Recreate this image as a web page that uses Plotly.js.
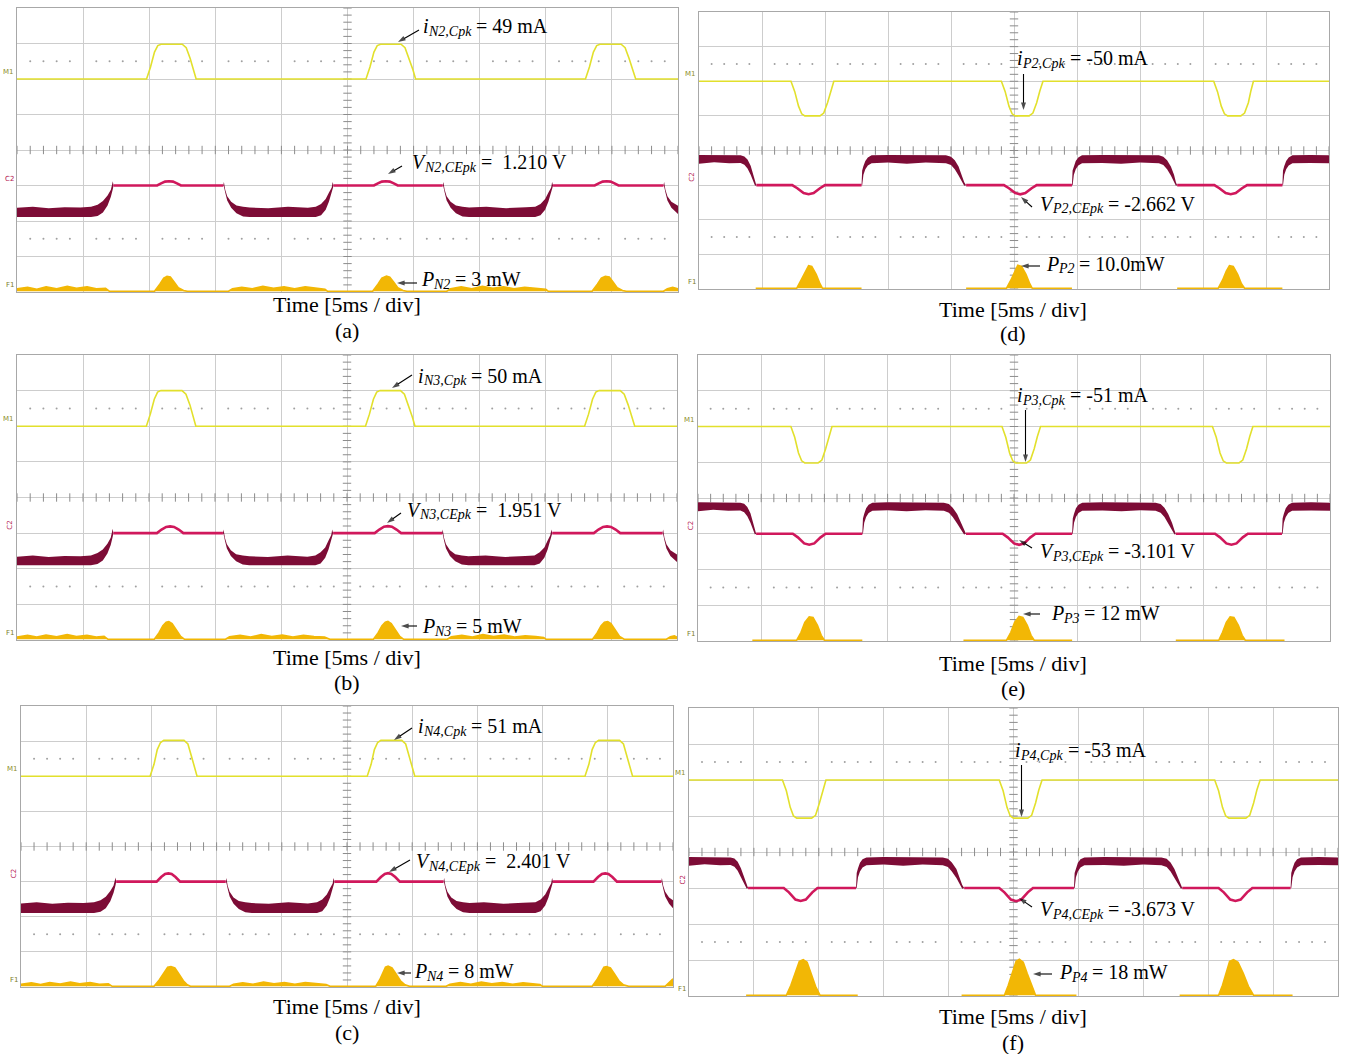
<!DOCTYPE html>
<html>
<head>
<meta charset="utf-8">
<script src="https://cdn.plot.ly/plotly-3.0.1.min.js"></script>
<style>
  html, body { margin: 0; padding: 0; background: #ffffff; }
  #chart { width: 1345px; height: 1054px; }
</style>
</head>
<body>
<div id="chart"></div>
<script>
// ---------------------------------------------------------------------------
// Scope captures, time in ms (5 ms/div, 10 div), current in mA, voltage in V,
// power in mW. Each capture: collector current, collector-emitter voltage
// (noisy band given as upper/lower envelope + clean conduction segments),
// and instantaneous power.
// ---------------------------------------------------------------------------

// ---- (a) N2 ----
const iN2_t = [0, 9.8,10.1,10.4,10.65,10.9,12.5,12.8,13.1,13.35,13.55, 26.4,26.7,27.0,27.25,27.5,29.05,29.35,29.65,29.95,30.15, 43.0,43.3,43.6,43.85,44.1,45.7,46.0,46.3,46.6,46.8, 50];
const iN2   = [0, 0,17,38,47,49,49,44,29,13,0, 0,17,38,47,49,49,44,29,13,0, 0,17,38,47,49,49,44,29,13,0, 0];
const vN2_bt = [0,1.2,2.4,3.6,4.8,5.6,6.1,6.5,6.85,7.1,7.25,7.3, 15.6,15.65,15.75,15.9,16.2,16.6,17.1,17.6,19.0,20.5,22.0,22.6,23.0,23.35,23.6,23.8,23.88,23.95, 32.2,32.25,32.35,32.5,32.8,33.2,33.7,34.2,35.5,37.0,38.5,39.2,39.6,39.95,40.2,40.4,40.48,40.55, 48.9,48.95,49.05,49.2,49.5,50];
const vN2_hi = [-6.3,-6.0,-6.4,-6.1,-6.2,-6.0,-5.4,-4.4,-2.8,-1.2,1.2,0, 0,1.0,-1.2,-3.0,-4.6,-5.6,-6.0,-6.2,-6.4,-6.0,-6.3,-6.0,-5.2,-3.8,-2.0,-0.6,1.0,0, 0,1.0,-1.2,-3.0,-4.6,-5.6,-6.0,-6.2,-6.0,-6.4,-6.1,-6.0,-5.2,-3.8,-2.0,-0.6,1.0,0, 0,1.0,-1.2,-3.0,-4.6,-5.7];
const vN2_lo = [-8.9,-8.9,-8.9,-8.9,-8.9,-8.9,-8.6,-7.6,-5.6,-3.2,-1.0,0, 0,-0.3,-2.0,-4.2,-6.3,-7.8,-8.7,-8.9,-8.9,-8.9,-8.9,-8.9,-8.4,-6.8,-4.5,-2.0,-0.6,0, 0,-0.3,-2.0,-4.2,-6.3,-7.8,-8.7,-8.9,-8.9,-8.9,-8.9,-8.9,-8.4,-6.8,-4.5,-2.0,-0.6,0, 0,-0.3,-2.0,-4.2,-6.3,-8.0];
const vN2_lt = [7.3,10.6,10.9,11.2,11.5,11.8,12.1,12.4,15.6,null, 23.95,27.0,27.3,27.6,27.9,28.2,28.5,28.8,32.2,null, 40.55,43.7,44.0,44.3,44.6,44.9,45.2,45.5,48.9];
const vN2_l  = [0,0,0.6,1.1,1.2,1.1,0.6,0,0,null, 0,0,0.6,1.1,1.21,1.1,0.6,0,0,null, 0,0,0.6,1.1,1.2,1.1,0.6,0,0];
const pN2_t = [0,0.8,1.5,2.2,3.0,3.8,4.5,5.3,6.0,6.7,7.0, 10.4,10.8,11.1,11.35,11.6,11.9,12.2,12.6,12.9, 16.0,16.3,17.0,17.8,18.6,19.4,20.2,21.0,21.8,22.6,23.3,23.5, 26.9,27.3,27.6,27.95,28.2,28.5,28.8,29.2,29.5, 32.5,32.8,33.6,34.4,35.2,36.0,36.8,37.6,38.4,39.2,40.0,40.2, 43.5,43.9,44.2,44.5,44.8,45.1,45.4,45.8,46.1, 48.9,49.2,49.6,50];
const pN2   = [0.5,0.8,0.4,0.9,0.5,1.0,0.6,0.9,0.5,0.6,0, 0,1.4,2.6,2.95,2.8,1.8,0.7,0.15,0, 0,0.5,0.8,0.5,1.0,0.6,0.9,0.5,0.9,0.6,0.4,0, 0,1.4,2.6,3.0,2.8,1.8,0.7,0.15,0, 0,0.5,0.9,0.5,1.0,0.6,0.9,0.5,0.8,0.6,0.4,0, 0,1.4,2.6,2.95,2.8,1.8,0.7,0.15,0, 0,0.5,0.8,0.5];

// ---- (b) N3 ----
const iN3_t = [0, 9.8,10.1,10.4,10.65,10.9,12.5,12.8,13.1,13.35,13.55, 26.4,26.7,27.0,27.25,27.5,29.05,29.35,29.65,29.95,30.15, 43.0,43.3,43.6,43.85,44.1,45.7,46.0,46.3,46.6,46.8, 50];
const iN3   = [0, 0,17,38,48,50,50,45,30,13,0, 0,17,38,48,50,50,45,30,13,0, 0,17,38,48,50,50,45,30,13,0, 0];
const vN3_bt = [0,1.2,2.4,3.6,4.8,5.6,6.1,6.5,6.85,7.1,7.25,7.3, 15.6,15.65,15.75,15.9,16.2,16.6,17.1,17.6,19.0,20.5,22.0,22.6,23.0,23.35,23.6,23.8,23.88,23.95, 32.2,32.25,32.35,32.5,32.8,33.2,33.7,34.2,35.5,37.0,38.5,39.2,39.6,39.95,40.2,40.4,40.48,40.55, 48.9,48.95,49.05,49.2,49.5,50];
const vN3_hi = [-6.6,-6.3,-6.7,-6.4,-6.5,-6.3,-5.6,-4.6,-3.0,-1.3,1.2,0, 0,1.0,-1.3,-3.1,-4.8,-5.9,-6.3,-6.5,-6.7,-6.3,-6.6,-6.3,-5.4,-4.0,-2.1,-0.6,1.0,0, 0,1.0,-1.3,-3.1,-4.8,-5.9,-6.3,-6.5,-6.3,-6.7,-6.4,-6.3,-5.4,-4.0,-2.1,-0.6,1.0,0, 0,1.0,-1.3,-3.1,-4.8,-6.0];
const vN3_lo = [-9.0,-9.0,-9.0,-9.0,-9.0,-9.0,-8.7,-7.7,-5.7,-3.3,-1.0,0, 0,-0.3,-2.1,-4.3,-6.4,-7.9,-8.8,-9.0,-9.0,-9.0,-9.0,-9.0,-8.5,-6.9,-4.6,-2.0,-0.6,0, 0,-0.3,-2.1,-4.3,-6.4,-7.9,-8.8,-9.0,-9.0,-9.0,-9.0,-9.0,-8.5,-6.9,-4.6,-2.0,-0.6,0, 0,-0.3,-2.1,-4.3,-6.4,-8.1];
const vN3_lt = [7.3,10.6,10.95,11.3,11.6,11.9,12.25,12.6,15.6,null, 23.95,27.1,27.45,27.8,28.1,28.4,28.75,29.1,32.2,null, 40.55,43.7,44.05,44.4,44.7,45.0,45.35,45.7,48.9];
const vN3_l  = [0,0,1.0,1.75,1.9,1.75,1.0,0,0,null, 0,0,1.0,1.8,1.951,1.8,1.0,0,0,null, 0,0,1.0,1.75,1.9,1.75,1.0,0,0];
const pN3_t = [0,0.8,1.5,2.2,3.0,3.8,4.5,5.3,6.0,6.6,6.9, 10.4,10.75,11.05,11.3,11.5,11.75,12.05,12.4,12.7, 15.8,16.1,16.9,17.7,18.5,19.3,20.1,20.9,21.7,22.5,23.3,23.7, 27.0,27.35,27.65,27.9,28.1,28.35,28.65,29.0,29.3, 32.6,32.9,33.7,34.5,35.3,36.1,36.9,37.7,38.5,39.3,39.9,40.1, 43.6,43.95,44.25,44.5,44.75,45.0,45.3,45.65,46.0, 49.2,49.5,49.8,50];
const pN3   = [0.6,1.1,0.6,1.2,0.7,1.3,0.8,1.1,0.6,0.8,0, 0,1.8,3.8,4.8,4.95,4.4,2.6,0.8,0, 0,0.7,1.1,0.6,1.3,0.8,1.2,0.6,1.1,0.8,0.6,0, 0,1.8,3.8,4.8,5,4.4,2.6,0.8,0, 0,0.7,1.1,0.6,1.3,0.8,1.2,0.6,1.0,0.8,0.5,0, 0,1.8,3.8,4.8,4.95,4.4,2.6,0.8,0, 0,0.7,1.0,0.6];

// ---- (c) N4 ----
const iN4_t = [0, 9.9,10.2,10.45,10.7,10.95,12.5,12.8,13.05,13.3,13.5, 26.55,26.85,27.1,27.35,27.6,29.2,29.5,29.75,30.0,30.2, 43.25,43.55,43.8,44.05,44.3,45.9,46.2,46.45,46.7,46.9, 50];
const iN4   = [0, 0,17,38,48,51,51,46,30,13,0, 0,17,38,48,51,51,46,30,13,0, 0,17,38,48,51,51,46,30,13,0, 0];
const vN4_bt = [0,1.2,2.4,3.6,4.8,5.6,6.1,6.5,6.85,7.1,7.25,7.3, 15.7,15.75,15.85,16.0,16.3,16.7,17.2,17.7,19.0,20.5,22.0,22.7,23.1,23.45,23.7,23.9,23.97,24.05, 32.4,32.45,32.55,32.7,33.0,33.4,33.9,34.4,35.5,37.0,38.5,39.45,39.85,40.2,40.45,40.65,40.73,40.8, 49.1,49.15,49.25,49.4,49.7,50];
const vN4_hi = [-6.2,-5.9,-6.3,-6.0,-6.1,-5.9,-5.3,-4.3,-2.7,-1.1,1.2,0, 0,1.0,-1.2,-2.9,-4.5,-5.5,-5.9,-6.1,-6.3,-5.9,-6.2,-5.9,-5.1,-3.7,-1.9,-0.5,1.0,0, 0,1.0,-1.2,-2.9,-4.5,-5.5,-5.9,-6.1,-5.9,-6.3,-6.0,-5.9,-5.1,-3.7,-1.9,-0.5,1.0,0, 0,1.0,-1.2,-2.9,-4.5,-5.3];
const vN4_lo = [-8.9,-8.9,-8.9,-8.9,-8.9,-8.9,-8.6,-7.6,-5.6,-3.2,-1.0,0, 0,-0.3,-2.0,-4.2,-6.3,-7.8,-8.7,-8.9,-8.9,-8.9,-8.9,-8.9,-8.4,-6.8,-4.5,-2.0,-0.6,0, 0,-0.3,-2.0,-4.2,-6.3,-7.8,-8.7,-8.9,-8.9,-8.9,-8.9,-8.9,-8.4,-6.8,-4.5,-2.0,-0.6,0, 0,-0.3,-2.0,-4.2,-6.3,-7.6];
const vN4_lt = [7.3,10.4,10.75,11.05,11.3,11.55,11.85,12.2,15.7,null, 24.05,27.25,27.6,27.9,28.15,28.4,28.7,29.05,32.4,null, 40.8,43.9,44.25,44.55,44.8,45.05,45.35,45.7,49.1];
const vN4_l  = [0,0,1.3,2.15,2.35,2.15,1.3,0,0,null, 0,0,1.3,2.2,2.401,2.2,1.3,0,0,null, 0,0,1.3,2.15,2.35,2.15,1.3,0,0];
const pN4_t = [0,0.8,1.5,2.2,3.0,3.8,4.5,5.3,6.0,6.7,7.0, 10.2,10.6,10.95,11.25,11.5,11.8,12.1,12.45,12.75,13.0, 16.0,16.3,17.0,17.8,18.6,19.4,20.2,21.0,21.8,22.6,23.4,23.7, 27.2,27.5,27.75,27.95,28.15,28.45,28.75,29.1,29.45,29.8, 32.6,32.9,33.7,34.5,35.3,36.1,36.9,37.7,38.5,39.3,39.8,40.0, 43.8,44.15,44.45,44.7,44.9,45.2,45.5,45.85,46.2,46.6, 49.4,49.7,50];
const pN4   = [0.8,1.4,0.7,1.5,0.9,1.7,1.0,1.5,0.8,1.0,0, 0,2.5,5.5,7.6,7.9,7.3,5.0,2.2,0.6,0, 0,0.8,1.4,0.8,1.7,1.0,1.5,0.8,1.5,1.0,0.7,0, 0,2.5,5.5,7.6,8,7.3,5.0,2.2,0.6,0, 0,0.8,1.5,0.8,1.7,1.0,1.5,0.8,1.4,1.0,0.7,0, 0,2.5,5.5,7.6,7.9,7.3,5.0,2.2,0.6,0, 0,1.5,3.0];

// ---- (d) P2 ----
const iP2_t = [0, 7.3,7.6,7.9,8.15,8.4,9.6,9.9,10.2,10.45,10.7, 24.0,24.3,24.6,24.85,25.1,26.2,26.5,26.8,27.05,27.3, 40.85,41.15,41.45,41.7,41.95,43.0,43.3,43.6,43.8,44.0, 50];
const iP2   = [0, 0,-15,-36,-47,-50,-50,-46,-31,-14,0, 0,-15,-36,-47,-50,-50,-46,-31,-14,0, 0,-15,-36,-47,-50,-50,-46,-31,-14,0, 0];
const vP2_bt = [0,1.2,2.4,3.3,3.6,3.85,4.1,4.3,4.45,4.55, 12.9,12.95,13.05,13.2,13.4,13.7,15.0,16.5,18.0,19.6,20.0,20.3,20.6,20.85,21.05,21.2, 29.6,29.65,29.75,29.9,30.1,30.4,32.0,33.5,35.0,36.5,36.85,37.15,37.45,37.7,37.85,37.95, 46.3,46.35,46.45,46.6,46.8,47.1,48.5,50];
const vP2_hi = [8.7,8.7,8.6,8.6,8.3,7.4,5.6,3.2,0.8,0, 0,4.2,5.5,7.0,8.0,8.6,8.7,8.6,8.7,8.6,8.2,7.2,5.4,3.0,0.8,0, 0,4.2,5.5,7.0,8.0,8.6,8.7,8.6,8.7,8.6,8.2,7.2,5.4,3.0,0.8,0, 0,4.2,5.5,7.0,8.0,8.6,8.7,8.6];
const vP2_lo = [6.2,6.6,6.3,6.4,5.9,4.8,3.0,1.2,-0.2,0, 0,0,3.0,4.6,5.7,6.3,6.5,6.2,6.5,6.3,5.8,4.6,2.8,1.0,-0.2,0, 0,0,3.0,4.6,5.7,6.3,6.4,6.2,6.5,6.3,5.8,4.6,2.8,1.0,-0.2,0, 0,0,3.0,4.6,5.7,6.3,6.4,6.3];
const vP2_lt = [4.55,7.4,7.8,8.3,8.7,9.1,9.6,10.0,12.9,null, 21.2,24.2,24.6,25.1,25.5,25.9,26.4,26.8,29.6,null, 37.95,40.9,41.3,41.8,42.2,42.6,43.1,43.5,46.3];
const vP2_l  = [0,0,-0.9,-2.3,-2.62,-2.3,-0.9,0,0,null, 0,0,-0.9,-2.3,-2.662,-2.3,-0.9,0,0,null, 0,0,-0.9,-2.3,-2.62,-2.3,-0.9,0,0];
const pP2_t = [4.5,7.75,8.1,8.45,8.7,8.95,9.3,9.6,9.8,12.9,null, 21.2,24.4,24.75,25.05,25.3,25.6,25.95,26.25,26.45,29.6,null, 37.95,41.2,41.55,41.85,42.1,42.4,42.75,43.05,43.3,46.3];
const pP2   = [0,0,3.5,7.5,9.8,9.5,6.0,2.0,0,0,null, 0,0,3.5,7.5,10.0,9.5,6.0,2.0,0,0,null, 0,0,3.5,7.5,9.8,9.5,6.0,2.0,0,0];

// ---- (e) P3 ----
const iP3_t = [0, 7.35,7.65,7.95,8.2,8.45,9.5,9.8,10.1,10.35,10.6, 24.05,24.35,24.65,24.9,25.15,26.0,26.3,26.6,26.85,27.1, 40.7,41.0,41.3,41.55,41.8,42.8,43.1,43.4,43.65,43.9, 50];
const iP3   = [0, 0,-15,-37,-48,-51,-51,-47,-31,-14,0, 0,-15,-37,-48,-51,-51,-47,-31,-14,0, 0,-15,-37,-48,-51,-51,-47,-31,-14,0, 0];
const vP3_bt = [0,1.2,2.4,3.35,3.65,3.9,4.15,4.35,4.5,4.6, 13.0,13.05,13.15,13.3,13.5,13.8,15.0,16.5,18.0,19.45,19.85,20.15,20.5,20.8,21.05,21.2, 29.6,29.65,29.75,29.9,30.1,30.4,32.0,33.5,35.0,36.2,36.6,36.9,37.2,37.5,37.7,37.8, 46.2,46.25,46.35,46.5,46.7,47.0,48.5,50];
const vP3_hi = [8.8,8.8,8.7,8.7,8.4,7.5,5.7,3.3,0.9,0, 0,4.3,5.6,7.1,8.1,8.7,8.8,8.7,8.8,8.7,8.3,7.3,5.5,3.1,0.9,0, 0,4.3,5.6,7.1,8.1,8.7,8.8,8.7,8.8,8.7,8.3,7.3,5.5,3.1,0.9,0, 0,4.3,5.6,7.1,8.1,8.7,8.8,8.7];
const vP3_lo = [6.3,6.7,6.4,6.5,6.0,4.9,3.1,1.3,-0.2,0, 0,0,3.1,4.7,5.8,6.4,6.6,6.3,6.6,6.4,5.9,4.7,2.9,1.1,-0.2,0, 0,0,3.1,4.7,5.8,6.4,6.5,6.3,6.6,6.4,5.9,4.7,2.9,1.1,-0.2,0, 0,0,3.1,4.7,5.8,6.4,6.5,6.4];
const vP3_lt = [4.6,7.5,7.9,8.4,8.8,9.2,9.7,10.1,13.0,null, 21.2,24.1,24.5,25.0,25.4,25.8,26.3,26.7,29.6,null, 37.8,40.9,41.3,41.8,42.2,42.6,43.1,43.5,46.2];
const vP3_l  = [0,0,-1.0,-2.7,-3.05,-2.7,-1.0,0,0,null, 0,0,-1.0,-2.7,-3.101,-2.7,-1.0,0,0,null, 0,0,-1.0,-2.7,-3.05,-2.7,-1.0,0,0];
const pP3_t = [4.3,7.8,8.15,8.45,8.8,9.1,9.45,9.75,10.0,13.0,null, 21.0,24.4,24.75,25.05,25.4,25.7,26.05,26.35,26.6,29.6,null, 37.8,41.2,41.5,41.8,42.1,42.4,42.75,43.05,43.3,46.4];
const pP3   = [0,0,4,9,11.8,11.5,7.5,2.5,0,0,null, 0,0,4,9,12,11.5,7.5,2.5,0,0,null, 0,0,4,9,11.8,11.5,7.5,2.5,0,0];

// ---- (f) P4 ----
const iP4_t = [0, 7.2,7.5,7.8,8.05,8.3,9.45,9.75,10.05,10.3,10.55, 23.9,24.2,24.5,24.75,25.0,26.1,26.4,26.7,26.95,27.2, 40.5,40.8,41.1,41.35,41.6,42.9,43.2,43.5,43.75,44.0, 50];
const iP4   = [0, 0,-15,-38,-50,-53,-53,-49,-32,-14,0, 0,-15,-38,-50,-53,-53,-49,-32,-14,0, 0,-15,-38,-50,-53,-53,-49,-32,-14,0, 0];
const vP4_bt = [0,1.2,2.4,3.2,3.5,3.75,4.0,4.25,4.45,4.55, 12.87,12.92,13.02,13.17,13.37,13.67,15.0,16.5,18.0,19.55,19.95,20.25,20.6,20.85,21.05,21.2, 29.66,29.71,29.81,29.96,30.16,30.46,32.0,33.5,35.0,36.4,36.8,37.1,37.4,37.7,37.9,38.0, 46.35,46.4,46.5,46.65,46.85,47.15,48.5,50];
const vP4_hi = [8.6,8.6,8.5,8.5,8.2,7.3,5.5,3.1,0.8,0, 0,4.2,5.5,7.0,8.0,8.5,8.6,8.5,8.6,8.5,8.1,7.1,5.3,2.9,0.8,0, 0,4.2,5.5,7.0,8.0,8.5,8.6,8.5,8.6,8.5,8.1,7.1,5.3,2.9,0.8,0, 0,4.2,5.5,7.0,8.0,8.5,8.6,8.5];
const vP4_lo = [6.2,6.6,6.3,6.4,5.9,4.8,3.0,1.2,-0.2,0, 0,0,3.0,4.6,5.7,6.3,6.5,6.2,6.5,6.3,5.8,4.6,2.8,1.0,-0.2,0, 0,0,3.0,4.6,5.7,6.3,6.4,6.2,6.5,6.3,5.8,4.6,2.8,1.0,-0.2,0, 0,0,3.0,4.6,5.7,6.3,6.4,6.3];
const vP4_lt = [4.55,7.3,7.7,8.2,8.6,9.0,9.5,9.9,12.87,null, 21.2,23.9,24.3,24.8,25.2,25.6,26.1,26.5,29.66,null, 38.0,40.8,41.2,41.7,42.1,42.5,43.0,43.4,46.35];
const vP4_l  = [0,0,-1.2,-3.2,-3.6,-3.2,-1.2,0,0,null, 0,0,-1.2,-3.2,-3.673,-3.2,-1.2,0,0,null, 0,0,-1.2,-3.2,-3.6,-3.2,-1.2,0,0];
const pP4_t = [4.4, 7.5,7.85,8.2,8.5,8.8,9.1,9.4,9.75,10.1, 13.0,null, 21.0, 24.3,24.6,24.95,25.2,25.45,25.75,26.05,26.4,26.7, 29.85,null, 37.8, 40.8,41.1,41.4,41.65,41.95,42.3,42.7,43.1,43.5, 46.5];
const pP4   = [0, 0,5,12,17,17.8,16.5,11,4.5,0, 0,null, 0, 0,5,12,17,18,16.5,11,4.5,0, 0,null, 0, 0,5,12,17,17.8,16.5,11,4.5,0, 0];

// Label parts: [symbol, subscript, remainder]
const labelsN2 = [['i', 'N2,Cpk', '= 49 mA'], ['V', 'N2,CEpk', '=\u00a0\u00a01.210 V'], ['P', 'N2', '= 3 mW']];
const labelsN3 = [['i', 'N3,Cpk', '= 50 mA'], ['V', 'N3,CEpk', '=\u00a0\u00a01.951 V'], ['P', 'N3', '= 5 mW']];
const labelsN4 = [['i', 'N4,Cpk', '= 51 mA'], ['V', 'N4,CEpk', '=\u00a0\u00a02.401 V'], ['P', 'N4', '= 8 mW']];
const labelsP2 = [['i', 'P2,Cpk', '= -50 mA'], ['V', 'P2,CEpk', '= -2.662 V'], ['P', 'P2', '= 10.0mW']];
const labelsP3 = [['i', 'P3,Cpk', '= -51 mA'], ['V', 'P3,CEpk', '= -3.101 V'], ['P', 'P3', '= 12 mW']];
const labelsP4 = [['i', 'P4,Cpk', '= -53 mA'], ['V', 'P4,CEpk', '= -3.673 V'], ['P', 'P4', '= 18 mW']];
const panelTags = ['(a)', '(b)', '(c)', '(d)', '(e)', '(f)'];
const timeCaption = 'Time [5ms / div]';

// ---------------------------------------------------------------------------
// Layout of the six screens (pixel boxes) and scope channel settings
// ---------------------------------------------------------------------------
const W = 1345, H = 1054;
const panels = [
  { box: [17, 8, 678, 292],   cur: [iN2_t, iN2], band: [vN2_bt, vN2_hi, vN2_lo], line: [vN2_lt, vN2_l], pow: [pN2_t, pN2], pScale: 7,
    labels: labelsN2, lpos: [[421, 26], [410, 162], [419, 279]],
    arrows: [[419, 30, 398, 42], [402, 166, 388, 174], [417, 283, 397, 283]], cap: [347, 305, 330], rot: false },
  { box: [17, 355, 677, 640], cur: [iN3_t, iN3], band: [vN3_bt, vN3_hi, vN3_lo], line: [vN3_lt, vN3_l], pow: [pN3_t, pN3], pScale: 10,
    labels: labelsN3, lpos: [[416, 376], [405, 510], [420, 626]],
    arrows: [[412, 375, 392, 388], [401, 513, 387, 523], [417, 626, 401, 626]], cap: [347, 657, 682], rot: true },
  { box: [21, 706, 673, 987], cur: [iN4_t, iN4], band: [vN4_bt, vN4_hi, vN4_lo], line: [vN4_lt, vN4_l], pow: [pN4_t, pN4], pScale: 14,
    labels: labelsN4, lpos: [[416, 726], [414, 861], [412, 971]],
    arrows: [[412, 728, 394, 740], [410, 860, 389, 872], [411, 973, 397, 973]], cap: [347, 1006, 1032], rot: true },
  { box: [699, 12, 1329, 289], cur: [iP2_t, iP2], band: [vP2_bt, vP2_hi, vP2_lo], line: [vP2_lt, vP2_l], pow: [pP2_t, pP2], pScale: 15,
    labels: labelsP2, lpos: [[1015, 58], [1038, 204], [1044, 264]],
    arrows: [[1023.5, 74, 1023.5, 110], [1032, 207, 1021, 197], [1040, 266, 1021, 266]], cap: [1013, 309, 333], rot: true },
  { box: [698, 355, 1330, 641], cur: [iP3_t, iP3], band: [vP3_bt, vP3_hi, vP3_lo], line: [vP3_lt, vP3_l], pow: [pP3_t, pP3], pScale: 18,
    labels: labelsP3, lpos: [[1015, 395], [1038, 551], [1049, 613]],
    arrows: [[1025.5, 410, 1025.5, 462], [1032, 548, 1019, 540], [1040, 614, 1023, 614]], cap: [1013, 663, 688], rot: true },
  { box: [689, 708, 1338, 996], cur: [iP4_t, iP4], band: [vP4_bt, vP4_hi, vP4_lo], line: [vP4_lt, vP4_l], pow: [pP4_t, pP4], pScale: 18,
    labels: labelsP4, lpos: [[1013, 750], [1038, 909], [1057, 972]],
    arrows: [[1021.5, 765, 1021.5, 817], [1032, 907, 1019, 898], [1052, 974, 1033, 974]], cap: [1013, 1016, 1042], rot: true }
];

const COL_I = '#e2e02c', COL_BAND = '#7d0c36', COL_V = '#d0185c', COL_P = '#f2b705';
const GRID = '#cdcdcd', FRAME = '#a8a8a8', TICK = '#8c8c8c';
const SERIF = 'Liberation Serif, Times New Roman, serif';
const MAIN_SIZE = 20, SUB_SIZE = 14;

// text widths for placing symbol, subscript and remainder side by side
const measureCtx = document.createElement('canvas').getContext('2d');
const textWidth = (txt, size, italic) => {
  measureCtx.font = (italic ? 'italic ' : '') + size + 'px "Liberation Serif"';
  return measureCtx.measureText(txt).width;
};

const fx = x => x / W;
const fy = y => 1 - y / H;

const data = [];
const layout = {
  width: W, height: H, margin: { l: 0, r: 0, t: 0, b: 0 },
  paper_bgcolor: '#ffffff', plot_bgcolor: 'rgba(0,0,0,0)', showlegend: false,
  annotations: []
};

const addText = (txt, x, y, size, italic, anchor) => {
  layout.annotations.push({ xref: 'paper', yref: 'paper', x: fx(x), y: fy(y), xanchor: anchor || 'left', yanchor: 'middle',
    showarrow: false, text: txt, font: { family: SERIF, size: size, color: '#000000', style: italic ? 'italic' : 'normal' } });
};

// grid decoration positions (0.2 div steps)
const tickX = [], tickY = [], dotX = [];
for (let k = 0; k <= 50; k++) tickX.push(k);
for (let k = 0; k <= 40; k++) tickY.push(k * 0.2);
for (let k = 1; k < 50; k++) if (k % 5 !== 0) dotX.push(k);

const arrowTraces = [];

panels.forEach((p, k) => {
  const xn = k + 1, ym = 4 * k + 1;
  const xid = xn === 1 ? 'x' : 'x' + xn;
  const yid = n => (n === 1 ? 'y' : 'y' + n);
  const xkey = xn === 1 ? 'xaxis' : 'xaxis' + xn;
  const ykey = n => (n === 1 ? 'yaxis' : 'yaxis' + n);
  const [x0, y0, x1, y1] = p.box;

  layout[xkey] = {
    domain: [fx(x0), fx(x1)], range: [0, 50], anchor: yid(ym),
    showgrid: true, gridcolor: GRID, gridwidth: 1, dtick: 5, tick0: 0,
    showticklabels: false, ticks: '', zeroline: false,
    showline: true, linecolor: FRAME, linewidth: 1, mirror: true, fixedrange: true
  };
  layout[ykey(ym)] = {
    domain: [fy(y1), fy(y0)], range: [0, 8], anchor: xid,
    showgrid: true, gridcolor: GRID, gridwidth: 1, dtick: 1, tick0: 0,
    showticklabels: false, ticks: '', zeroline: false,
    showline: true, linecolor: FRAME, linewidth: 1, mirror: true, fixedrange: true
  };
  // channel axes: current 50 mA/div (zero at 6 div), voltage 10 V/div (zero at 3 div), power pScale mW/div
  layout[ykey(ym + 1)] = { overlaying: yid(ym), anchor: xid, range: [-300, 100], visible: false, fixedrange: true };
  layout[ykey(ym + 2)] = { overlaying: yid(ym), anchor: xid, range: [-30, 50], visible: false, fixedrange: true };
  layout[ykey(ym + 3)] = { overlaying: yid(ym), anchor: xid, range: [-0.02 * p.pScale, 7.98 * p.pScale], visible: false, fixedrange: true };

  // screen graticule details
  data.push({ x: tickX, y: tickX.map(() => 4), xaxis: xid, yaxis: yid(ym), mode: 'markers', hoverinfo: 'skip',
    marker: { symbol: 'line-ns', size: 6, line: { width: 1, color: TICK } } });
  data.push({ x: tickY.map(() => 25), y: tickY, xaxis: xid, yaxis: yid(ym), mode: 'markers', hoverinfo: 'skip',
    marker: { symbol: 'line-ew', size: 6, line: { width: 1, color: TICK } } });
  data.push({ x: dotX.concat(dotX), y: dotX.map(() => 6.5).concat(dotX.map(() => 1.5)), xaxis: xid, yaxis: yid(ym),
    mode: 'markers', hoverinfo: 'skip', marker: { symbol: 'circle', size: 2, color: '#a0a0a0' } });

  // current
  data.push({ x: p.cur[0], y: p.cur[1], xaxis: xid, yaxis: yid(ym + 1), mode: 'lines', hoverinfo: 'skip',
    line: { color: COL_I, width: 1.6 } });
  // voltage: noisy blocking band (fill only), then the clean conduction trace
  data.push({ x: p.band[0], y: p.band[2], xaxis: xid, yaxis: yid(ym + 2), mode: 'lines', hoverinfo: 'skip',
    line: { color: COL_BAND, width: 0 } });
  data.push({ x: p.band[0], y: p.band[1], xaxis: xid, yaxis: yid(ym + 2), mode: 'lines', hoverinfo: 'skip',
    fill: 'tonexty', fillcolor: COL_BAND, line: { color: COL_BAND, width: 0 } });
  data.push({ x: p.line[0], y: p.line[1], xaxis: xid, yaxis: yid(ym + 2), mode: 'lines', hoverinfo: 'skip',
    connectgaps: false, line: { color: COL_V, width: 2.6 } });
  // power
  data.push({ x: p.pow[0], y: p.pow[1], xaxis: xid, yaxis: yid(ym + 3), mode: 'lines', hoverinfo: 'skip',
    connectgaps: false, fill: 'tozeroy', fillcolor: COL_P, line: { color: COL_P, width: 1.6 } });

  // value labels: italic symbol, lowered italic subscript, then the value
  p.labels.forEach((parts, j) => {
    const lx = p.lpos[j][0], ly = p.lpos[j][1];
    const w1 = textWidth(parts[0], MAIN_SIZE, true) - 0.5;
    const w2 = textWidth(parts[1], SUB_SIZE, true) + 6;
    addText(parts[0], lx, ly, MAIN_SIZE, true);
    addText(parts[1], lx + w1, ly + 5, SUB_SIZE, true);
    addText(parts[2], lx + w1 + w2, ly, MAIN_SIZE, false);
  });
  // pointer arrows, drawn in a full-page pixel frame
  p.arrows.forEach(a => {
    arrowTraces.push({ x: [a[0], a[2]], y: [a[1], a[3]], xaxis: 'x7', yaxis: 'y25', mode: 'lines+markers', hoverinfo: 'skip',
      line: { color: '#000000', width: 1.1 },
      marker: { symbol: 'arrow', angleref: 'previous', size: [0, 8], color: '#000000', line: { width: 0 } } });
  });
  // axis caption and panel tag
  addText(timeCaption, p.cap[0], p.cap[1], 22, false, 'center');
  addText(panelTags[k], p.cap[0], p.cap[2], 22, false, 'center');

  // channel ground markers at the left edge of the screen
  const div = (y1 - y0) / 8;
  const marks = [['M1', y1 - 6 * div, '#8e8e2a', false], ['C2', y1 - 3 * div, '#b3134f', p.rot], ['F1', y1, '#7d7d2a', false]];
  marks.forEach(m => {
    layout.annotations.push({ xref: 'paper', yref: 'paper', x: fx(x0 - 1), y: fy(m[1] - 1), xanchor: 'right', yanchor: 'bottom',
      showarrow: false, text: m[0], textangle: m[3] ? -90 : 0, font: { family: 'DejaVu Sans, sans-serif', size: 7, color: m[2] } });
  });
});

// page-sized pixel frame used for the pointer arrows
layout.xaxis7 = { domain: [0, 1], range: [0, W], anchor: 'y25', visible: false, fixedrange: true, showgrid: false, zeroline: false };
layout.yaxis25 = { domain: [0, 1], range: [H, 0], anchor: 'x7', visible: false, fixedrange: true, showgrid: false, zeroline: false };
arrowTraces.forEach(t => data.push(t));

Plotly.newPlot('chart', data, layout, { displayModeBar: false, staticPlot: true });
</script>
</body>
</html>
